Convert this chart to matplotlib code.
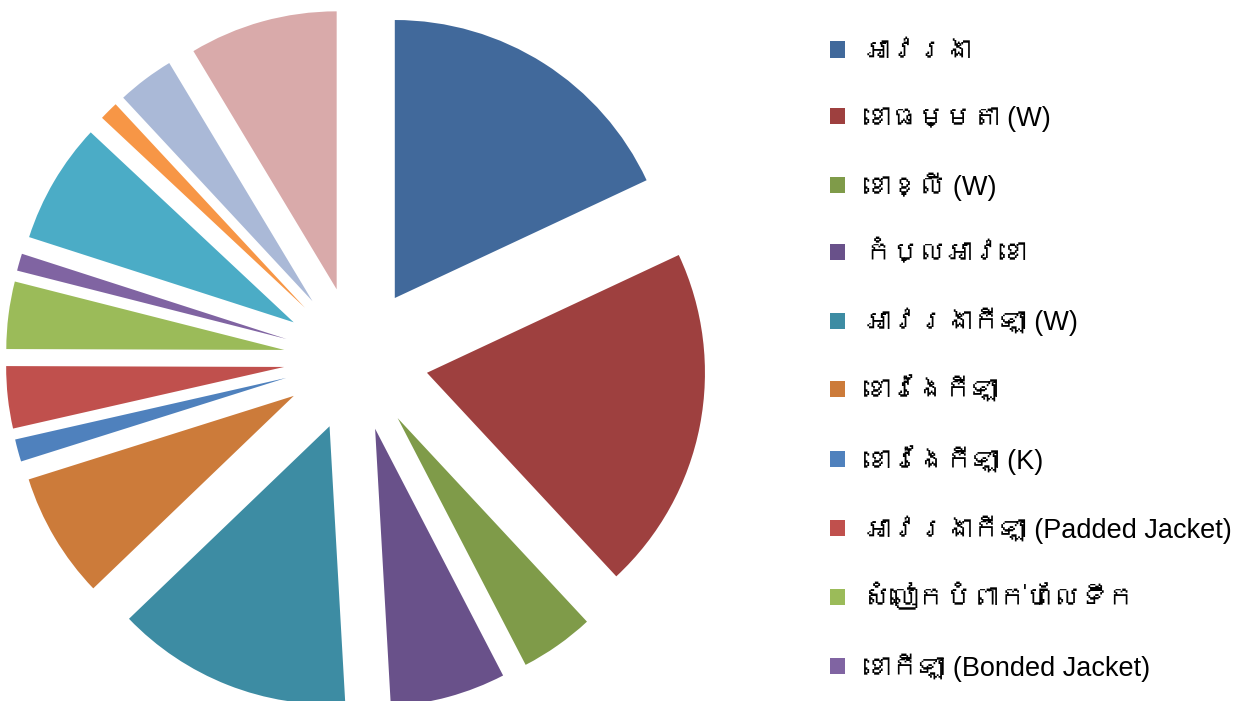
import matplotlib
matplotlib.use("Agg")
import matplotlib.pyplot as plt
from matplotlib import font_manager, ft2font

# slice shares (percent), clockwise from 12 o'clock
labels = [
    "អាវរងា",
    "ខោធម្មតា (W)",
    "ខោខ្លី (W)",
    "កំប្លអាវខោ",
    "អាវរងាកីឡា (W)",
    "ខោវែងកីឡា",
    "ខោវែងកីឡា (K)",
    "អាវរងាកីឡា (Padded Jacket)",
    "សំលៀកបំពាក់ហែលទឹក",
    "ខោកីឡា (Bonded Jacket)",
    "item 11",
    "item 12",
    "item 13",
    "item 14",
]
values = [18.0, 20.0, 4.3, 6.7, 13.7, 7.3, 1.3, 3.6, 3.9, 1.0, 7.0, 1.1, 3.3, 8.6]
colors = ["#41699B", "#9E403F", "#7F9B49", "#69518A", "#3D8CA3", "#CC7B3A",
          "#4F81BD", "#C0504D", "#9BBB59", "#8064A2", "#4BACC6", "#F79646",
          "#AAB9D7", "#D9AAAA"]
n_legend = 10


def find_khmer_font():
    # look for any installed face that actually has Khmer glyphs
    seen = set()
    for f in font_manager.fontManager.ttflist:
        if f.fname in seen:
            continue
        seen.add(f.fname)
        try:
            if 0x1780 in ft2font.FT2Font(f.fname).get_charmap():
                return f.name
        except Exception:
            pass
    return None


khmer = find_khmer_font()
families = ["Liberation Sans"] + ([khmer] if khmer else []) + ["DejaVu Sans"]
plt.rcParams["font.family"] = families

W, H = 1248, 701
fig = plt.figure(figsize=(W / 100, H / 100), dpi=100)
fig.patch.set_facecolor("white")

# pie centre ~ (356, 359) px, radius ~278 px
cx, cy, r = 356, H - 359, 278
ax = fig.add_axes([(cx - r) / W, (cy - r) / H, 2 * r / W, 2 * r / H])
wedges, _ = ax.pie(values, colors=colors, startangle=90, counterclock=False,
                   explode=[0.26] * len(values),
                   wedgeprops={"linewidth": 0, "clip_on": False})
ax.set_xlim(-1, 1)
ax.set_ylim(-1, 1)
ax.set_axis_off()

fig.legend(wedges[:n_legend], labels[:n_legend],
           loc="upper left", bbox_to_anchor=(830 / W, 1 - 39 / H),
           frameon=False, fontsize=19.5, handlelength=0.55, handleheight=0.55,
           handletextpad=0.7, labelspacing=1.5, borderpad=0, borderaxespad=0)

fig.savefig("out.png", dpi=100, facecolor="white")
